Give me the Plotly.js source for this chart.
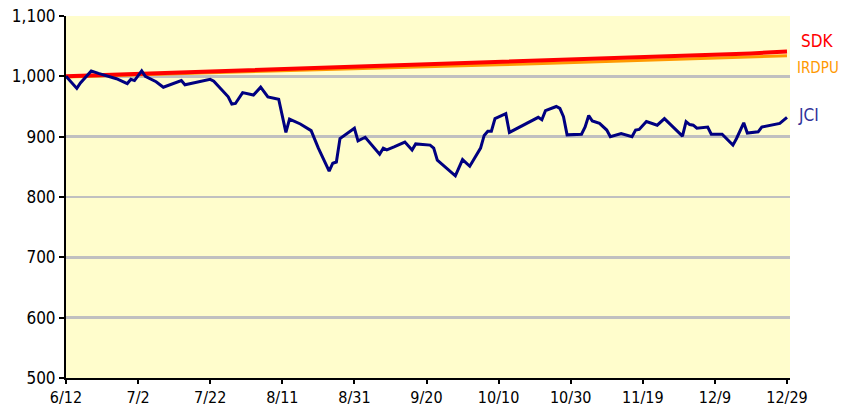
<!DOCTYPE html>
<html><head><meta charset="utf-8">
<script src="https://cdn.plot.ly/plotly-3.0.1.min.js"></script>
<style>body{margin:0;background:#fff}#c{width:842px;height:406px}</style>
</head><body><div id="c"></div>
<script>
const jciDates = ["2007-06-12","2007-06-15","2007-06-16","2007-06-19","2007-06-21","2007-06-25","2007-06-26","2007-06-29","2007-06-30","2007-07-01",
"2007-07-03","2007-07-04","2007-07-07","2007-07-09","2007-07-14","2007-07-15","2007-07-22","2007-07-23","2007-07-27","2007-07-28",
"2007-07-29","2007-07-31","2007-08-03","2007-08-05","2007-08-07","2007-08-10","2007-08-12","2007-08-13","2007-08-16","2007-08-19",
"2007-08-21","2007-08-24","2007-08-25","2007-08-26","2007-08-27","2007-08-31","2007-09-01","2007-09-03","2007-09-04","2007-09-07",
"2007-09-08","2007-09-09","2007-09-11","2007-09-14","2007-09-16","2007-09-17","2007-09-21","2007-09-22","2007-09-23","2007-09-24",
"2007-09-28","2007-09-30","2007-10-02","2007-10-05","2007-10-06","2007-10-07","2007-10-08","2007-10-09","2007-10-12","2007-10-13",
"2007-10-18","2007-10-21","2007-10-22","2007-10-23","2007-10-26","2007-10-27","2007-10-28","2007-10-29","2007-11-02","2007-11-03",
"2007-11-04","2007-11-05","2007-11-07","2007-11-09","2007-11-10","2007-11-13","2007-11-16","2007-11-17","2007-11-18","2007-11-20",
"2007-11-23","2007-11-25","2007-11-30","2007-12-01","2007-12-02","2007-12-03","2007-12-04","2007-12-07","2007-12-08","2007-12-11",
"2007-12-14","2007-12-15","2007-12-17","2007-12-18","2007-12-21","2007-12-22","2007-12-27","2007-12-29"];
const jciValues = [1000,980,989,1009,1005,997,996,988,995,993,
1009,1000,991,982,993,986,995,992,966,954,
955,973,969,982,966,962,907,929,921,910,
881,843,856,858,897,914,893,899,892,871,
881,878,883,891,878,888,886,881,861,856,
835,862,851,881,902,909,909,930,938,907,
923,932,928,943,950,947,933,903,904,916,
935,926,922,911,900,905,900,911,912,925,
919,930,901,925,920,919,914,916,904,904,
886,897,923,906,908,916,922,932];

const rateDates = ["2007-06-12","2007-06-22","2007-07-02","2007-07-12","2007-07-22","2007-08-01","2007-08-11","2007-08-21","2007-08-31","2007-09-10",
"2007-09-20","2007-09-30","2007-10-10","2007-10-20","2007-10-30","2007-11-09","2007-11-19","2007-11-29","2007-12-09","2007-12-19","2007-12-29"];
const sdkValues = [1000,1002,1004,1006,1008,1010,1012,1013.5,1015,1017,1019,1021,1023,1025,1027,1029,1031,1033,1035,1038,1041];
const irdpuValues = [999,1001,1002.5,1004,1006,1007.5,1009,1010.5,1012,1014,1016,1017.5,1019,1021,1023,1025,1027,1029,1031,1032.5,1034];

const tickDates = ["2007-06-12","2007-07-02","2007-07-22","2007-08-11","2007-08-31","2007-09-20","2007-10-10","2007-10-30","2007-11-19","2007-12-09","2007-12-29"];
const tickLabels = ["6/12","7/2","7/22","8/11","8/31","9/20","10/10","10/30","11/19","12/9","12/29"];
const yTicks = [500,600,700,800,900,1000,1100];
const seriesNames = ["SDK","IRDPU","JCI"];

const font = "'Liberation Sans Narrow','DejaVu Sans Condensed',sans-serif";

const traces = [
  {x: rateDates, y: irdpuValues, name: seriesNames[1], mode: "lines", line: {color: "#FF9900", width: 3}},
  {x: rateDates, y: sdkValues, name: seriesNames[0], mode: "lines", line: {color: "#FF0000", width: 4}},
  {x: jciDates, y: jciValues, name: seriesNames[2], mode: "lines", line: {color: "#000080", width: 3}}
];

const layout = {
  width: 842, height: 406,
  margin: {l: 66, r: 52, t: 16, b: 28},
  paper_bgcolor: "#ffffff",
  plot_bgcolor: "#FFFDCC",
  showlegend: false,
  font: {family: font, size: 16, color: "#000"},
  xaxis: {
    type: "date",
    range: ["2007-06-12", "2007-12-29 20:00"],
    tickvals: tickDates, ticktext: tickLabels,
    ticks: "outside", ticklen: 4, tickwidth: 2, tickcolor: "#000",
    showline: true, linecolor: "#000", linewidth: 2,
    showgrid: false, zeroline: false,
    tickfont: {family: font, size: 16, color: "#000"}
  },
  yaxis: {
    range: [500, 1100],
    tickvals: yTicks,
    tickformat: ",d",
    ticks: "outside", ticklen: 5, tickwidth: 2, tickcolor: "#000",
    showline: true, linecolor: "#000", linewidth: 2,
    showgrid: true, gridcolor: "#C0C0C0", gridwidth: 2.5,
    zeroline: false,
    tickfont: {family: font, size: 17, color: "#000"}
  },
  annotations: [
    {xref: "paper", yref: "y", x: 1.012, y: sdkValues[sdkValues.length-1] + 18, text: seriesNames[0], showarrow: false, xanchor: "left", font: {family: font, size: 17, color: "#FF0000"}},
    {xref: "paper", yref: "y", x: 1.007, y: irdpuValues[irdpuValues.length-1] - 20, text: seriesNames[1], showarrow: false, xanchor: "left", font: {family: font, size: 15, color: "#FF9900"}},
    {xref: "paper", yref: "y", x: 1.008, y: jciValues[jciValues.length-1] + 4, text: seriesNames[2], showarrow: false, xanchor: "left", font: {family: font, size: 17, color: "#333399"}}
  ]
};

Plotly.newPlot("c", traces, layout, {displayModeBar: false, staticPlot: true});
</script>
</body></html>
